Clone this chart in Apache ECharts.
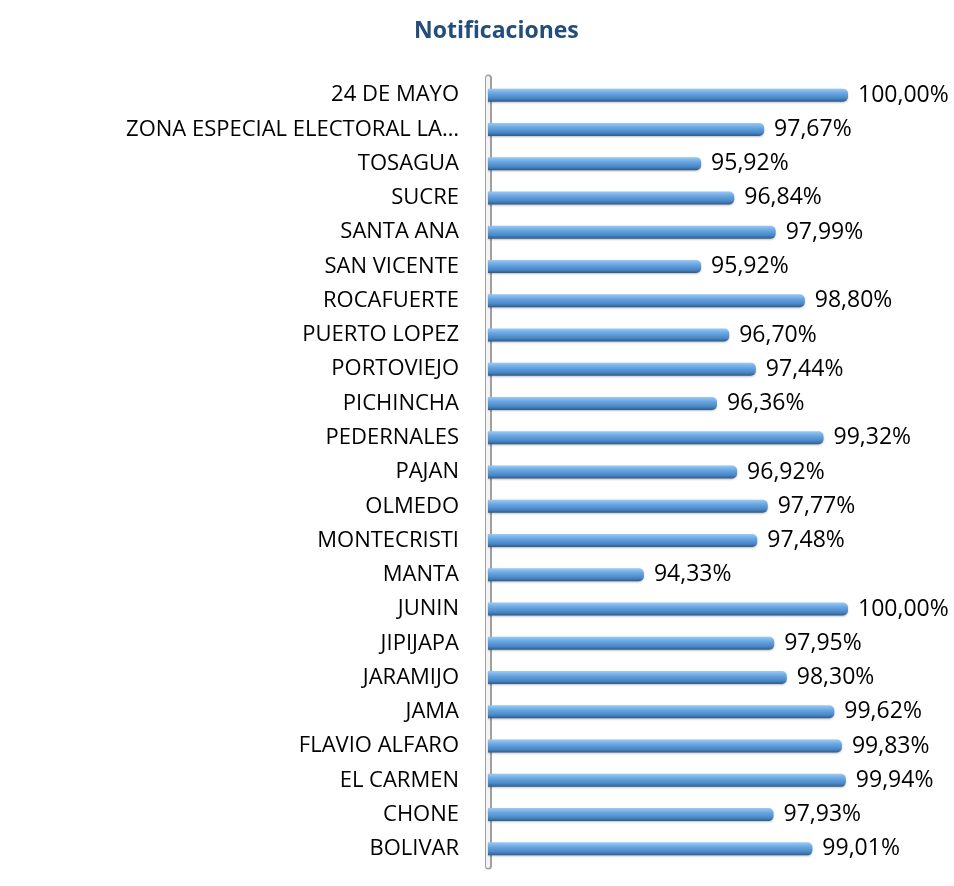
<!DOCTYPE html>
<html>
<head>
<meta charset="utf-8">
<script src="https://cdn.jsdelivr.net/npm/echarts@6/dist/echarts.min.js"></script>
<style>
  html, body { margin: 0; padding: 0; background: #fff; }
  #chart { width: 954px; height: 886px; }
</style>
</head>
<body>
<div id="chart"></div>
<script>
// categories, top to bottom
var cantones = [
  '24 DE MAYO', 'ZONA ESPECIAL ELECTORAL LA…', 'TOSAGUA', 'SUCRE', 'SANTA ANA',
  'SAN VICENTE', 'ROCAFUERTE', 'PUERTO LOPEZ', 'PORTOVIEJO', 'PICHINCHA',
  'PEDERNALES', 'PAJAN', 'OLMEDO', 'MONTECRISTI', 'MANTA', 'JUNIN',
  'JIPIJAPA', 'JARAMIJO', 'JAMA', 'FLAVIO ALFARO', 'EL CARMEN', 'CHONE', 'BOLIVAR'
];
// percent notified
var notificaciones = [
  100.00, 97.67, 95.92, 96.84, 97.99,
  95.92, 98.80, 96.70, 97.44, 96.36,
  99.32, 96.92, 97.77, 97.48, 94.33, 100.00,
  97.95, 98.30, 99.62, 99.83, 99.94, 97.93, 99.01
];

var fuente = 'Open Sans, Noto Sans, sans-serif';

var myChart = echarts.init(document.getElementById('chart'));

// bar look: rounded tube, light top, dark bottom
var tubo = new echarts.graphic.LinearGradient(0, 0, 0, 1, [
  { offset: 0, color: '#9cc9f2' },
  { offset: 0.35, color: '#68a7e3' },
  { offset: 0.75, color: '#4a86c4' },
  { offset: 1, color: '#2d5b8b' }
]);

var option = {
  backgroundColor: '#ffffff',
  animation: false,
  title: {
    text: 'Notificaciones',
    left: 409,
    top: 15,
    textStyle: { fontFamily: fuente, fontSize: 23, fontWeight: 'bold', color: '#234e7a' }
  },
  grid: { left: 488, right: 106, top: 78, bottom: 20 },
  xAxis: {
    type: 'value',
    min: 90,
    max: 100,
    show: false
  },
  yAxis: [{
    type: 'category',
    data: cantones,
    inverse: true,
    axisTick: { show: false },
    axisLine: { show: true, lineStyle: { color: '#a0a0a0', width: 7 } },
    axisLabel: { fontFamily: fuente, fontSize: 22, color: '#000', margin: 29 },
    splitLine: { show: false }
  }, {
    type: 'category',
    data: cantones,
    inverse: true,
    position: 'left',
    axisTick: { show: false },
    axisLabel: { show: false },
    axisLine: { show: true, lineStyle: { color: '#f4f4f4', width: 4 } }
  }],
  series: [{
    type: 'bar',
    data: notificaciones,
    barWidth: 13,
    itemStyle: {
      color: tubo,
      borderRadius: [0, 5, 5, 0],
      shadowColor: 'rgba(0,0,0,0.25)',
      shadowBlur: 2,
      shadowOffsetY: 1
    },
    label: {
      show: true,
      position: 'right',
      distance: 10,
      fontFamily: fuente,
      fontSize: 23,
      color: '#000',
      formatter: function (p) {
        return p.value.toFixed(2).replace('.', ',') + '%';
      }
    }
  }]
};

myChart.setOption(option);
window.onresize = function () { myChart.resize(); };
</script>
</body>
</html>
